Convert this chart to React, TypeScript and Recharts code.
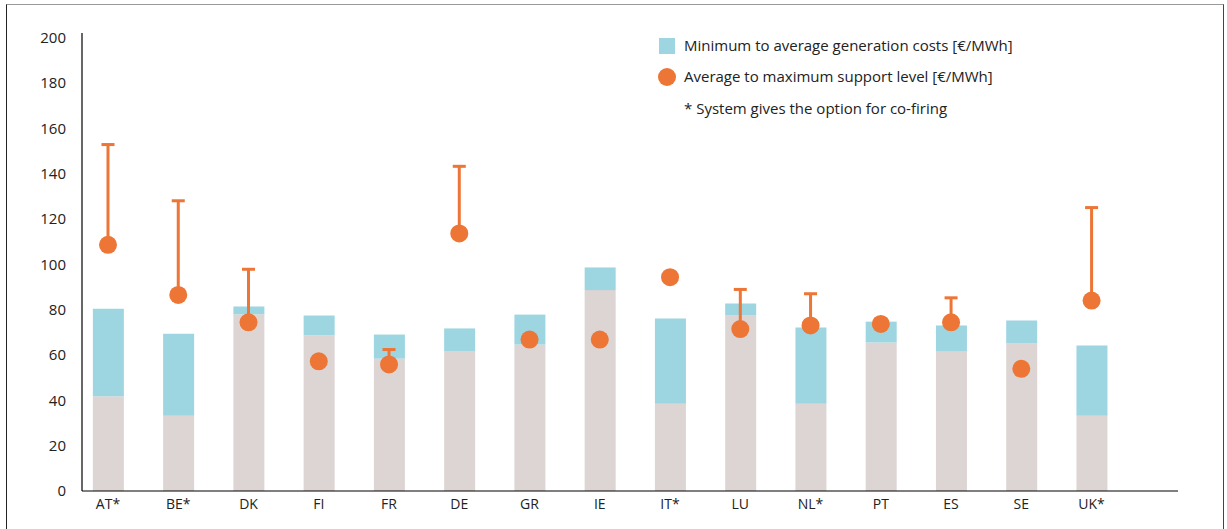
import {
  ComposedChart,
  Bar,
  Scatter,
  ErrorBar,
  XAxis,
  YAxis,
} from "recharts";

const countries = ["AT*", "BE*", "DK", "FI", "FR", "DE", "GR", "IE", "IT*", "LU", "NL*", "PT", "ES", "SE", "UK*"];
const minCost = [41.8, 33.2, 78.0, 68.6, 58.4, 61.6, 64.6, 88.6, 38.5, 77.4, 38.5, 65.5, 61.5, 65.0, 33.2];
const avgCost = [80.4, 69.4, 81.4, 77.4, 69.0, 71.7, 77.8, 98.6, 76.1, 82.7, 72.1, 74.7, 73.0, 75.2, 64.2];
const avgSupport = [108.6, 86.5, 74.4, 57.2, 55.8, 113.6, 66.8, 66.8, 94.3, 71.4, 73.0, 73.7, 74.4, 53.9, 84.0];
const maxSupport = [152.8, 128.0, 97.8, null, 62.4, 143.2, null, null, null, 88.9, 87.0, null, 85.2, null, 125.0];
const yTicks = [0, 20, 40, 60, 80, 100, 120, 140, 160, 180, 200];

const GREY = "#dcd5d3";
const BLUE = "#9dd5e1";
const ORANGE = "#ed7535";
const FONT = "'Open Sans', sans-serif";

const rows = countries.map((name, i) => ({
  x: i,
  name,
  base: minCost[i],
  gap: +(avgCost[i] - minCost[i]).toFixed(1),
  support: avgSupport[i],
  max: maxSupport[i],
  err: [0, maxSupport[i] == null ? 0 : +((maxSupport[i] as number) - avgSupport[i]).toFixed(1)],
}));

function LegendBox() {
  const text = { fontFamily: FONT, fontSize: 15, color: "#222", whiteSpace: "nowrap" as const };
  return (
    <div style={{ position: "absolute", left: 659, top: 37, width: 420, height: 90 }}>
      <div style={{ position: "absolute", left: 0, top: 1, width: 16, height: 16, background: BLUE }} />
      <div style={{ ...text, position: "absolute", left: 25, top: -2 }}>
        Minimum to average generation costs [€/MWh]
      </div>
      <div style={{ position: "absolute", left: -1, top: 31, width: 18, height: 18, borderRadius: 9, background: ORANGE }} />
      <div style={{ ...text, position: "absolute", left: 25, top: 29 }}>
        Average to maximum support level [€/MWh]
      </div>
      <div style={{ ...text, position: "absolute", left: 25, top: 61 }}>
        * System gives the option for co-firing
      </div>
    </div>
  );
}

const Dot = (props: any) => <circle cx={props.cx} cy={props.cy} r={9} fill={ORANGE} />;
// horizontal cap at the top of each whisker
const Cap = (props: any) => {
  if (props.payload?.max == null || !Number.isFinite(props.cy)) return <g />;
  return <rect x={props.cx - 6.5} y={props.cy - 1.5} width={13} height={3} fill={ORANGE} />;
};

export default function App() {
  return (
    <div style={{ position: "absolute", left: 0, top: 0, width: 1227, height: 529, background: "#fff" }}>
      <div
        style={{
          position: "absolute",
          left: 6,
          top: 4,
          width: 1216,
          height: 540,
          borderTop: "1.5px solid #9a9a9a",
          borderLeft: "1.5px solid #222",
          borderRight: "1.5px solid #444",
        }}
      />
      <ComposedChart
        width={1227}
        height={529}
        data={rows}
        margin={{ top: 33, right: 49, bottom: 8, left: 0 }}
        style={{ position: "absolute", left: 0, top: 0 }}
      >
        <XAxis
          dataKey="x"
          type="number"
          domain={[-0.37, 15.23]}
          ticks={countries.map((_, i) => i)}
          tickFormatter={(v: number) => countries[v]}
          interval={0}
          height={30}
          tickLine={false}
          tickSize={0}
          tickMargin={8}
          axisLine={{ stroke: "#000", strokeWidth: 1.2 }}
          tick={{ fill: "#222", fontSize: 14, fontFamily: FONT }}
        />
        <YAxis
          type="number"
          domain={[0, 202]}
          ticks={yTicks}
          interval={0}
          width={82}
          tickLine={false}
          tickSize={0}
          tickMargin={16}
          axisLine={{ stroke: "#000", strokeWidth: 1.2 }}
          tick={{ fill: "#222", fontSize: 15, fontFamily: FONT }}
        />
        <Bar dataKey="base" stackId="c" fill={GREY} barSize={31} isAnimationActive={false} />
        <Bar dataKey="gap" stackId="c" fill={BLUE} barSize={31} isAnimationActive={false} />
        <Scatter dataKey="max" shape={Cap} isAnimationActive={false} />
        <Scatter dataKey="support" fill={ORANGE} shape={Dot} isAnimationActive={false}>
          <ErrorBar dataKey="err" direction="y" width={0} stroke={ORANGE} strokeWidth={3} isAnimationActive={false} />
        </Scatter>
      </ComposedChart>
      <LegendBox />
    </div>
  );
}
